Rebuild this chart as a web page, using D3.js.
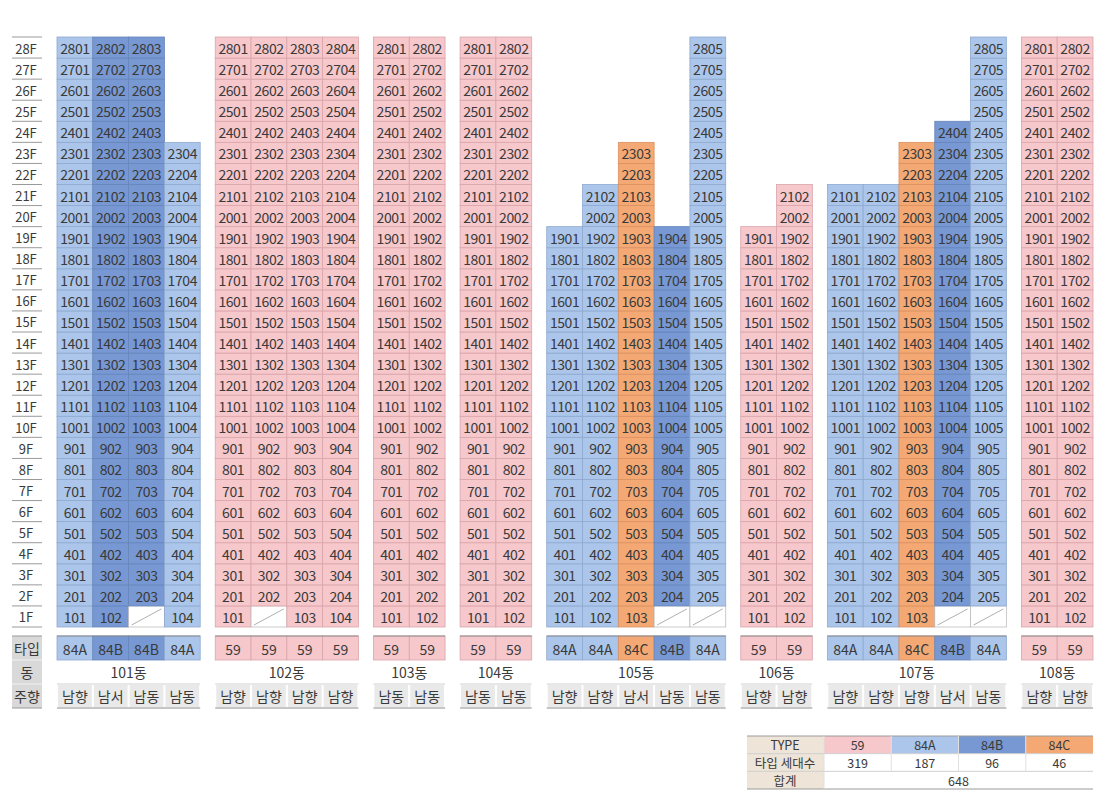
<!DOCTYPE html>
<html>
<head>
<meta charset="utf-8">
<script src="https://cdn.jsdelivr.net/npm/d3@7/dist/d3.min.js"></script>
<style>
  html, body { margin: 0; padding: 0; background: #ffffff; }
  svg { display: block; font-family: "Noto Sans CJK KR", "Noto Sans", sans-serif; }
</style>
</head>
<body>
<svg id="chart" width="1115" height="800"></svg>
<script>
// ---------------- DATA ----------------
const floorLabels = ["28F","27F","26F","25F","24F","23F","22F","21F","20F","19F","18F","17F","16F","15F","14F","13F","12F","11F","10F","9F","8F","7F","6F","5F","4F","3F","2F","1F"];
const buildings = ["101동","102동","103동","104동","105동","106동","107동","108동"];
const buildingTypes = [
  ["84A","84B","84B","84A"],
  ["59","59","59","59"],
  ["59","59"],
  ["59","59"],
  ["84A","84A","84C","84B","84A"],
  ["59","59"],
  ["84A","84A","84C","84B","84A"],
  ["59","59"]
];
const topFloors = [
  [28,28,28,23],
  [28,28,28,28],
  [28,28],
  [28,28],
  [19,21,23,19,28],
  [19,21],
  [21,21,23,24,28],
  [28,28]
];
// units with no dwelling on 1F (building, line)
const missingUnits = [
  ["101동",3],
  ["102동",2],
  ["105동",4],
  ["105동",5],
  ["107동",4],
  ["107동",5]
];
const orientations = [
  ["남향","남서","남동","남동"],
  ["남향","남향","남향","남향"],
  ["남동","남동"],
  ["남동","남동"],
  ["남향","남향","남서","남동","남동"],
  ["남향","남향"],
  ["남향","남향","남향","남서","남동"],
  ["남향","남향"]
];
const rowLabels = ["타입","동","주향"];
const legendTypes = ["59","84A","84B","84C"];
const legendCounts = [319,187,96,46];
const legendTotal = 648;
const legendRowLabels = ["TYPE","타입 세대수","합계"];

// ---------------- STYLE ----------------
const typeFill = {"59":"#f6c7cb","84A":"#abc6ea","84B":"#7798d3","84C":"#f4a974"};
const typeStroke = {"59":"#d9a5aa","84A":"#8fa9cf","84B":"#6585bb","84C":"#d99162"};
const textColor = "#3a3a3a";

const svg = d3.select("#chart");

// ---------------- SCALES ----------------
const y = d3.scaleBand().domain(floorLabels).range([37, 627]).padding(0);
const gapRatio = 0.42;
const cols = [];
let u = 0;
buildings.forEach((b, bi) => {
  if (bi > 0) u += gapRatio;
  buildingTypes[bi].forEach((t, ci) => {
    cols.push({b, bi, ci, type: t, start: u, top: topFloors[bi][ci], orient: orientations[bi][ci]});
    u += 1;
  });
});
const totalUnits = u;
const x = d3.scaleLinear().domain([0, totalUnits]).range([57, 1093]);
const cw = x(1) - x(0);

// ---------------- FLOOR LABELS ----------------
const fl = svg.append("g");
fl.selectAll("line").data(floorLabels).join("line")
  .attr("x1", 12).attr("x2", 42)
  .attr("y1", d => y(d) + y.bandwidth()).attr("y2", d => y(d) + y.bandwidth())
  .attr("stroke", "#9a9a9a").attr("stroke-width", 1);
fl.append("line").attr("x1", 12).attr("x2", 42).attr("y1", y(floorLabels[0])).attr("y2", y(floorLabels[0]))
  .attr("stroke", "#9a9a9a");
fl.selectAll("text").data(floorLabels).join("text")
  .attr("x", 26).attr("y", d => y(d) + y.bandwidth()/2 + 0.5)
  .attr("text-anchor", "middle").attr("dominant-baseline", "central")
  .attr("font-size", 13).attr("fill", textColor).text(d => d);

// ---------------- CELLS ----------------
const isMissing = (c) => missingUnits.some(m => m[0] === c.b && m[1] === c.ci + 1);
const cells = [];
cols.forEach(c => {
  for (let f = 1; f <= c.top; f++) {
    cells.push({c, f, missing: f === 1 && isMissing(c), label: String(f * 100 + c.ci + 1)});
  }
});
const cg = svg.append("g");
const cell = cg.selectAll("g").data(cells).join("g")
  .attr("transform", d => `translate(${x(d.c.start)},${y(d.f + "F")})`);
cell.append("rect")
  .attr("width", cw).attr("height", y.bandwidth())
  .attr("fill", d => d.missing ? "#ffffff" : typeFill[d.c.type])
  .attr("stroke", d => d.missing ? "#bdbdbd" : typeStroke[d.c.type])
  .attr("stroke-width", 0.8);
cell.filter(d => d.missing).append("line")
  .attr("x1", 3).attr("y1", y.bandwidth() - 2).attr("x2", cw - 3).attr("y2", 3)
  .attr("stroke", "#9a9a9a").attr("stroke-width", 0.8);
cell.filter(d => !d.missing).append("text")
  .attr("x", cw/2).attr("y", y.bandwidth()/2 + 0.5)
  .attr("text-anchor", "middle").attr("dominant-baseline", "central")
  .attr("font-size", 14).attr("fill", textColor).attr("letter-spacing", -0.4)
  .text(d => d.label);

// ---------------- BOTTOM ROWS ----------------
const rowY = [636, 660, 684];
const rowH = [24, 24, 24];
const lab = svg.append("g");
rowLabels.forEach((r, i) => {
  lab.append("rect").attr("x", 12).attr("y", rowY[i]).attr("width", 30).attr("height", rowH[i])
    .attr("fill", "#d9d9d9");
  lab.append("text").attr("x", 27).attr("y", rowY[i] + rowH[i]/2)
    .attr("text-anchor", "middle").attr("dominant-baseline", "central")
    .attr("font-size", 14).attr("fill", textColor).text(r);
});
lab.append("line").attr("x1", 12).attr("x2", 42).attr("y1", rowY[0]).attr("y2", rowY[0]).attr("stroke", "#9a9a9a");
lab.append("line").attr("x1", 12).attr("x2", 42).attr("y1", rowY[1]).attr("y2", rowY[1]).attr("stroke", "#f2f2f2");
lab.append("line").attr("x1", 12).attr("x2", 42).attr("y1", rowY[2]).attr("y2", rowY[2]).attr("stroke", "#f2f2f2");
lab.append("line").attr("x1", 12).attr("x2", 42).attr("y1", rowY[2] + rowH[2]).attr("y2", rowY[2] + rowH[2]).attr("stroke", "#9a9a9a");

// type row
const tr = svg.append("g").selectAll("g").data(cols).join("g")
  .attr("transform", d => `translate(${x(d.start)},${rowY[0]})`);
tr.append("rect").attr("width", cw).attr("height", rowH[0])
  .attr("fill", d => typeFill[d.type]).attr("stroke", d => typeStroke[d.type]).attr("stroke-width", 0.8);
tr.append("text").attr("x", cw/2).attr("y", rowH[0]/2 + 0.5)
  .attr("text-anchor", "middle").attr("dominant-baseline", "central")
  .attr("font-size", 14).attr("fill", textColor).text(d => d.type);
buildings.forEach((b, bi) => {
  const bc = cols.filter(c => c.bi === bi);
  const x0 = x(bc[0].start), x1 = x(bc[bc.length-1].start + 1);
  svg.append("text").attr("x", (x0 + x1)/2).attr("y", rowY[1] + rowH[1]/2)
    .attr("text-anchor", "middle").attr("dominant-baseline", "central")
    .attr("font-size", 14).attr("fill", textColor).text(b);
});
// orientation row
const orr = svg.append("g").selectAll("g").data(cols).join("g")
  .attr("transform", d => `translate(${x(d.start)},${rowY[2]})`);
orr.append("rect").attr("x", 0.5).attr("y", 0.5).attr("width", cw - 1).attr("height", rowH[2] - 1)
  .attr("fill", "#e9e9e9").attr("stroke", "#ffffff").attr("stroke-width", 1);
orr.append("text").attr("x", cw/2).attr("y", rowH[2]/2)
  .attr("text-anchor", "middle").attr("dominant-baseline", "central")
  .attr("font-size", 14).attr("fill", textColor).text(d => d.orient);
buildings.forEach((b, bi) => {
  const bc = cols.filter(c => c.bi === bi);
  const x0 = x(bc[0].start), x1 = x(bc[bc.length-1].start + 1);
  svg.append("line").attr("x1", x0).attr("x2", x1).attr("y1", rowY[2]).attr("y2", rowY[2])
    .attr("stroke", "#d0d0d0");
  svg.append("line").attr("x1", x0).attr("x2", x1).attr("y1", rowY[2] + rowH[2]).attr("y2", rowY[2] + rowH[2])
    .attr("stroke", "#8c8c8c");
  svg.append("line").attr("x1", x0).attr("x2", x1).attr("y1", rowY[0]).attr("y2", rowY[0])
    .attr("stroke", "#8c8c8c");
});

// ---------------- LEGEND TABLE ----------------
const lx = d3.scaleBand().domain(legendTypes).range([824, 1093]);
const lyRows = d3.scaleBand().domain(legendRowLabels).range([736, 789]);
const lg = svg.append("g");
lg.append("rect").attr("x", 747).attr("y", 736).attr("width", 77).attr("height", 53).attr("fill", "#eee4d7");
legendRowLabels.forEach(r => {
  lg.append("text").attr("x", 785).attr("y", lyRows(r) + lyRows.bandwidth()/2)
    .attr("text-anchor", "middle").attr("dominant-baseline", "central")
    .attr("font-size", 12.5).attr("fill", textColor).text(r);
});
legendTypes.forEach((t, i) => {
  lg.append("rect").attr("x", lx(t)).attr("y", 736).attr("width", lx.bandwidth()).attr("height", lyRows.bandwidth())
    .attr("fill", typeFill[t]);
  lg.append("text").attr("x", lx(t) + lx.bandwidth()/2).attr("y", lyRows("TYPE") + lyRows.bandwidth()/2)
    .attr("text-anchor", "middle").attr("dominant-baseline", "central")
    .attr("font-size", 12.5).attr("fill", textColor).text(t);
  lg.append("text").attr("x", lx(t) + lx.bandwidth()/2).attr("y", lyRows("타입 세대수") + lyRows.bandwidth()/2)
    .attr("text-anchor", "middle").attr("dominant-baseline", "central")
    .attr("font-size", 12.5).attr("fill", textColor).text(legendCounts[i]);
});
lg.append("text").attr("x", (824 + 1093)/2).attr("y", lyRows("합계") + lyRows.bandwidth()/2)
  .attr("text-anchor", "middle").attr("dominant-baseline", "central")
  .attr("font-size", 12.5).attr("fill", textColor).text(legendTotal);
[736, lyRows("타입 세대수"), lyRows("합계"), 789].forEach((yy, i) => {
  lg.append("line").attr("x1", 747).attr("x2", 1093).attr("y1", yy).attr("y2", yy)
    .attr("stroke", i === 0 || i === 3 ? "#9a9a9a" : "#d0d0d0");
});
[824].concat(legendTypes.slice(1).map(t => lx(t))).forEach((xx, i) => {
  lg.append("line").attr("x1", xx).attr("x2", xx).attr("y1", 736).attr("y2", i === 0 ? 789 : lyRows("합계"))
    .attr("stroke", "#e0e0e0");
});
</script>
</body>
</html>
